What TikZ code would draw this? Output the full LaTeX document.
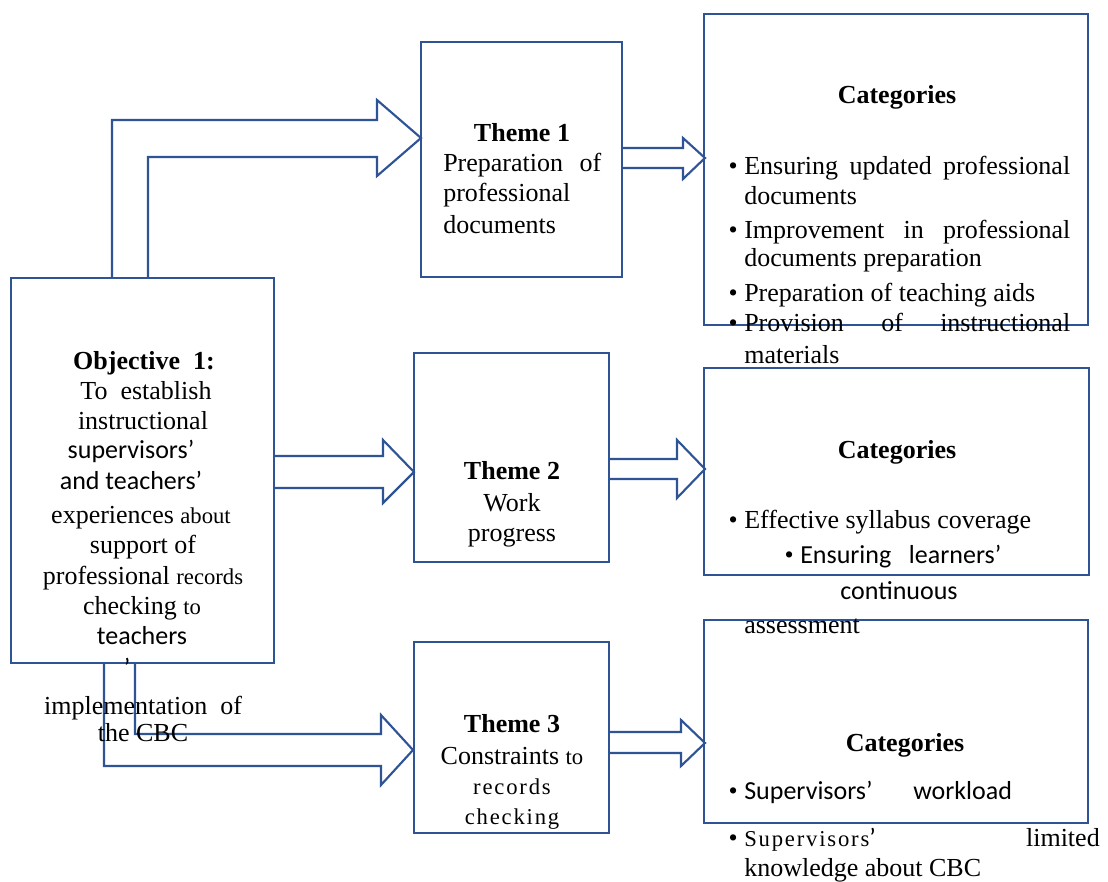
\documentclass[tikz,border=0pt]{standalone}
\usepackage{fontspec}
\setmainfont{Liberation Serif}
\newfontfamily\sanscal{Carlito}
\usetikzlibrary{fit}
\definecolor{boxblue}{RGB}{47,84,150}
\newcommand\tline[5]{\node[txt,anchor=#4] (#1) at (#2,#3) {#5};}
\newcommand\bul{\llap{{\rmfamily •}\hspace{5pt}}}
\newcommand\spaced[1]{{\fontsize{17}{20}\selectfont\addfontfeatures{LetterSpace=8}#1}}
\tikzset{
  box/.style={draw=boxblue, line width=1.6pt, inner sep=0pt},
  blockarrow/.style={draw=boxblue, line width=1.6pt, fill=white, line join=miter},
  txt/.style={inner sep=0pt, font=\fontsize{19.5}{22}\selectfont},
}
\begin{document}
\begin{tikzpicture}[x=0.75pt,y=-0.75pt]
\useasboundingbox (0,0) rectangle (1108,882);
% block arrows
\draw[blockarrow] (112,278) -- (112,120) -- (377,120) -- (377,100) -- (421,138) -- (377,176) -- (377,157) -- (148,157) -- (148,278);
\draw[blockarrow] (274,456) -- (383,456) -- (383,440) -- (414,472) -- (383,503) -- (383,488) -- (274,488);
\draw[blockarrow] (104,662) -- (104,766) -- (381,766) -- (381,785) -- (413,750) -- (381,715) -- (381,734) -- (135,734) -- (135,662);
\draw[blockarrow] (622,148) -- (683,148) -- (683,138) -- (705,158) -- (683,179) -- (683,168) -- (622,168);
\draw[blockarrow] (609,459) -- (677,459) -- (677,440) -- (705,469) -- (677,498) -- (677,479) -- (609,479);
\draw[blockarrow] (609,732) -- (681,732) -- (681,720) -- (705,743) -- (681,766) -- (681,753) -- (609,753);
% boxes
\node[box, fit={(11,278) (274,663)}] (obj) {};
\node[box, fit={(421,42) (622,277)}] (th1) {};
\node[box, fit={(414,353) (609,562)}] (th2) {};
\node[box, fit={(414,642) (609,833)}] (th3) {};
\node[box, fit={(704,14) (1088,325)}] (c1) {};
\node[box, fit={(704,368) (1089,575)}] (c2) {};
\node[box, fit={(704,620) (1088,823)}] (c3) {};
% objective text
\tline{o1}{144}{369}{base}{\textbf{Objective\ \ 1:}}
\tline{o2}{146}{399}{base}{To\ \ establish}
\tline{o3}{143}{429}{base}{instructional}
\tline{o4}{131}{458}{base}{\sanscal supervisors’}
\tline{o5}{131}{489}{base}{\sanscal and teachers’}
\tline{o6}{141}{523}{base}{experiences {\fontsize{17}{20}\selectfont about}}
\tline{o7}{143}{553}{base}{support of}
\tline{o8}{143}{584}{base}{professional {\fontsize{17}{20}\selectfont records}}
\tline{o9}{142}{614}{base}{checking {\fontsize{17}{20}\selectfont to}}
\tline{o10}{142}{644}{base}{\sanscal teachers}
\tline{o11}{127}{676}{base}{\sanscal ’}
\tline{o12}{143}{714}{base}{implementation\ \ of}
\tline{o13}{143}{741}{base}{the CBC}
% theme 1
\tline{a1}{522}{141}{base}{\textbf{Theme\ 1}}
\tline{a2}{443}{171}{base west}{\makebox[118.5pt][s]{Preparation of}}
\tline{a3}{443}{201}{base west}{professional}
\tline{a4}{443}{233}{base west}{documents}
% theme 2
\tline{b1}{512}{479}{base}{\textbf{Theme\ 2}}
\tline{b2}{512}{511}{base}{Work}
\tline{b3}{512}{541}{base}{progress}
% theme 3
\tline{d1}{512}{732}{base}{\textbf{Theme\ 3}}
\tline{d2}{512}{764}{base}{Constraints {\fontsize{17}{20}\selectfont to}}
\tline{d3}{512}{794}{base}{\spaced{records}}
\tline{d4}{512}{824}{base}{\spaced{checking}}
% categories 1
\tline{e1}{897}{103}{base}{\textbf{Categories}}
\tline{e2}{744}{174}{base west}{\bul\makebox[244.5pt][s]{Ensuring updated professional}}
\tline{e3}{744}{204}{base west}{documents}
\tline{e4}{744}{238}{base west}{\bul\makebox[244.5pt][s]{Improvement in professional}}
\tline{e5}{744}{266}{base west}{documents preparation}
\tline{e6}{744}{301}{base west}{\bul Preparation of teaching aids}
\tline{e7}{744}{331}{base west}{\bul\makebox[244.5pt][s]{Provision of instructional}}
\tline{e8}{744}{363}{base west}{materials}
% categories 2
\tline{f1}{897}{458}{base}{\textbf{Categories}}
\tline{f2}{744}{528}{base west}{\bul Effective syllabus coverage}
\tline{f3}{800}{563}{base west}{\sanscal\bul Ensuring\ \ \ learners’}
\tline{f4}{899}{599}{base}{\sanscal continuous}
\tline{f5}{744}{633}{base west}{assessment}
% categories 3
\tline{g1}{905}{751}{base}{\textbf{Categories}}
\tline{g2}{744}{799}{base west}{\sanscal\bul Supervisors’}
\tline{g3}{913}{799}{base west}{\sanscal workload}
\tline{g4}{744}{846}{base west}{\bul\spaced{Supervisors}{\sanscal ’}}
\tline{g5}{1100}{846}{base east}{limited}
\tline{g6}{744}{876}{base west}{knowledge about CBC}
\end{tikzpicture}
\end{document}
